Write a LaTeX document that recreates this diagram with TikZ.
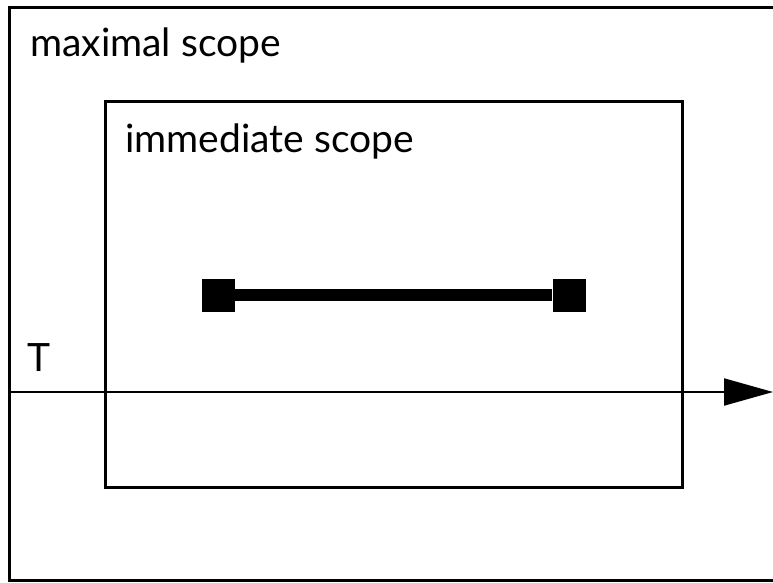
\documentclass[tikz,border=0pt]{standalone}
\usepackage{fontspec}
\setmainfont{Lato}
\usetikzlibrary{arrows.meta}
\begin{document}
\begin{tikzpicture}[x=1pt,y=-1pt,
  frame/.style={draw,line width=3pt},
  lbl/.style={anchor=base west,inner sep=0pt,font=\fontsize{39}{46}\selectfont},
  endbox/.style={fill=black,minimum size=33pt,inner sep=0pt}]
\useasboundingbox (0,0) rectangle (773,583);
\draw[line width=3pt] (800,7.5) -- (9.5,7.5) -- (9.5,580) -- (800,580);
\draw[frame] (105,102) rectangle (682,487);
\node[lbl] (max) at (30,57) {maximal scope};
\node[lbl] (imm) at (125,152) {immediate scope};
\node[lbl] (T) at (27,371) {T};
\coordinate (tstart) at (9,392);
\coordinate (tend) at (773,392);
\draw[line width=2pt,-{Triangle[length=49pt,width=27pt]}] (tstart) -- (tend);
\node[endbox] (l) at (218,295) {};
\node[endbox] (r) at (569,295) {};
\draw[line width=12pt] (l) -- (r);
\end{tikzpicture}
\end{document}
